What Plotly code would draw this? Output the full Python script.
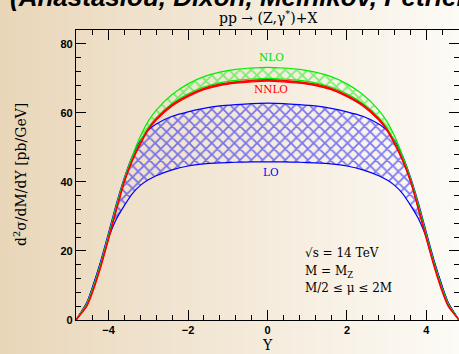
import plotly.graph_objects as go

# ---------------- data ----------------
Y = [-4.82, -4.55, -4.4, -4.2, -4.0, -3.8, -3.6, -3.4, -3.2, -3.0, -2.8, -2.4, -2.0, -1.6, -1.2, -0.8, -0.4,
     0.0, 0.4, 0.8, 1.2, 1.6, 2.0, 2.4, 2.8, 3.0, 3.2, 3.4, 3.6, 3.8, 4.0, 4.2, 4.4, 4.55, 4.82]

LO_hi = [0, 5.0, 9.7, 17.0, 25.3, 33.8, 41.3, 47.5, 52.0, 55.0, 56.8, 59.0, 60.3, 61.3, 62.0, 62.4, 62.7,
         62.8, 62.7, 62.4, 62.0, 61.3, 60.3, 59.0, 56.8, 55.0, 52.0, 47.5, 41.3, 33.8, 25.3, 17.0, 9.7, 5.0, 0]
LO_lo = [0, 4.9, 9.5, 16.6, 23.8, 29.3, 33.2, 36.6, 39.0, 40.6, 41.8, 43.5, 44.6, 45.2, 45.5, 45.7, 45.8,
         45.8, 45.8, 45.7, 45.5, 45.2, 44.6, 43.5, 41.8, 40.6, 39.0, 36.6, 33.2, 29.3, 23.8, 16.6, 9.5, 4.9, 0]
NLO_hi = [0, 4.6, 9.1, 16.3, 24.6, 33.2, 41.0, 47.6, 53.2, 57.6, 60.8, 65.3, 68.4, 70.5, 71.8, 72.6, 73.0,
          73.2, 73.0, 72.6, 71.8, 70.5, 68.4, 65.3, 60.8, 57.6, 53.2, 47.6, 41.0, 33.2, 24.6, 16.3, 9.1, 4.6, 0]
NLO_lo = [0, 4.5, 8.9, 16.0, 24.2, 32.8, 40.5, 46.6, 51.7, 55.7, 58.6, 62.7, 65.5, 67.5, 68.7, 69.4, 69.8,
          70.0, 69.8, 69.4, 68.7, 67.5, 65.5, 62.7, 58.6, 55.7, 51.7, 46.6, 40.5, 32.8, 24.2, 16.0, 8.9, 4.5, 0]
NNLO_hi = [0, 4.2, 8.5, 15.6, 23.8, 32.3, 40.4, 46.5, 51.3, 55.4, 58.3, 62.4, 65.1, 67.1, 68.3, 69.0, 69.4,
           69.6, 69.4, 69.0, 68.3, 67.1, 65.1, 62.4, 58.3, 55.4, 51.3, 46.5, 40.4, 32.3, 23.8, 15.6, 8.5, 4.2, 0]
NNLO_lo = [0, 3.9, 8.1, 15.2, 23.4, 31.9, 40.0, 46.1, 50.9, 55.0, 57.9, 62.0, 64.7, 66.7, 67.9, 68.6, 69.0,
           69.2, 69.0, 68.6, 67.9, 66.7, 64.7, 62.0, 57.9, 55.0, 50.9, 46.1, 40.0, 31.9, 23.4, 15.2, 8.1, 3.9, 0]

X_TICKS = [-4, -2, 0, 2, 4]
Y_TICKS = [0, 20, 40, 60, 80]

W, H = 459, 354
ML, MR, MT, MB = 76, 0, 30, 34

SERIF = "DejaVu Serif"
SANS = "Liberation Sans"

fig = go.Figure()


def band(lo, hi, color, width, name, pat=True):
    line = dict(color=color, width=width, shape="spline", smoothing=0.6)
    fig.add_trace(go.Scatter(x=Y, y=lo, mode="lines", line=line,
                             showlegend=False, hoverinfo="skip", name=name + " lo"))
    if pat:
        kw = dict(fill="tonexty", fillcolor="rgba(0,0,0,0)",
                  fillpattern=dict(shape="x", fgcolor=color, bgcolor="rgba(0,0,0,0)",
                                   size=8, solidity=0.4))
    else:
        kw = dict(fill="tonexty", fillcolor=color)
    fig.add_trace(go.Scatter(x=Y, y=hi, mode="lines", line=line,
                             showlegend=False, hoverinfo="skip", name=name + " hi", **kw))


band(LO_lo, LO_hi, "#0000ff", 1.2, "LO")
band(NLO_lo, NLO_hi, "#00ee00", 1.2, "NLO")
band(NNLO_lo, NNLO_hi, "#ff0000", 1.3, "NNLO", pat=False)

# background gradient (left tan -> right near white)
pw = W - ML - MR
ph = H - MT - MB
c0 = (233, 214, 185)
c1 = (253, 251, 246)
step = 3
shapes = []
for px in range(0, W, step):
    t = (px + step / 2) / W
    col = tuple(int(round(c0[i] + (c1[i] - c0[i]) * t)) for i in range(3))
    shapes.append(dict(type="rect", xref="paper", yref="paper",
                       x0=(px - ML) / pw, x1=(px + step + 0.5 - ML) / pw,
                       y0=-MB / ph - 0.01, y1=1 + MT / ph + 0.01,
                       fillcolor="rgb(%d,%d,%d)" % col, line=dict(width=0), layer="below"))

axis_common = dict(showline=True, linecolor="black", linewidth=1.3, mirror="ticks",
                   ticks="inside", tickcolor="black", tickwidth=1.2, ticklen=10,
                   showgrid=False, zeroline=False,
                   tickfont=dict(family=SANS, size=11, color="black", weight="bold"))

fig.update_layout(
    width=W, height=H,
    margin=dict(l=ML, r=MR, t=MT, b=MB, pad=0),
    paper_bgcolor="rgb(253,251,246)", plot_bgcolor="rgba(0,0,0,0)",
    shapes=shapes,
    xaxis=dict(range=[-4.82, 4.82], tickvals=X_TICKS,
               minor=dict(dtick=0.4, tick0=0, ticks="inside", ticklen=5, tickcolor="black", tickwidth=1),
               **axis_common),
    yaxis=dict(range=[0, 84], tickvals=Y_TICKS,
               minor=dict(dtick=4, tick0=0, ticks="inside", ticklen=5, tickcolor="black", tickwidth=1),
               **axis_common),
    showlegend=False,
)

ann = []
# cut-off big heading at the very top
ann.append(dict(text="(Anastasiou, Dixon, Melnikov, Petriello)", xref="paper", yref="paper",
                x=(8 - ML) / pw, y=1.114, xanchor="left", yanchor="middle", showarrow=False,
                font=dict(family=SANS, size=26, color="black", weight="bold", style="italic")))
# process title
ann.append(dict(text="pp \u2192 (Z,\u03b3<sup>*</sup>)+X", xref="x", yref="paper", x=0, y=1 + 13 / ph,
                xanchor="center", yanchor="middle", showarrow=False,
                font=dict(family=SERIF, size=14, color="black")))
# axis titles
ann.append(dict(text="Y", xref="x", yref="paper", x=0, y=-25 / ph, xanchor="center", yanchor="middle",
                showarrow=False, font=dict(family=SERIF, size=14, color="black")))
ann.append(dict(text="d<sup>2</sup>\u03c3/dM/dY [pb/GeV]", xref="paper", yref="paper",
                x=(20 - ML) / pw, y=(320 - 175) / ph, xanchor="center", yanchor="middle", textangle=-90,
                showarrow=False, font=dict(family=SERIF, size=14, color="black")))
# band labels
ann.append(dict(text="NLO", x=0.1, y=76.2, xref="x", yref="y", showarrow=False,
                font=dict(family=SERIF, size=10.5, color="#00dd00")))
ann.append(dict(text="NNLO", x=0.1, y=66.9, xref="x", yref="y", showarrow=False,
                font=dict(family=SERIF, size=10.5, color="#ff0000")))
ann.append(dict(text="LO", x=0.1, y=42.9, xref="x", yref="y", showarrow=False,
                font=dict(family=SERIF, size=10.5, color="#0000ff")))
# info block
for txt, yy in [("\u221As = 14 TeV", 19.4), ("M = M<sub>Z</sub>", 13.9), ("M/2 \u2264 \u03bc \u2264 2M", 9.4)]:
    ann.append(dict(text=txt, x=0.89, y=yy, xref="x", yref="y", xanchor="left", yanchor="middle",
                    showarrow=False, font=dict(family=SERIF, size=12, color="black")))

fig.update_layout(annotations=ann)

fig.write_html("out.html")
